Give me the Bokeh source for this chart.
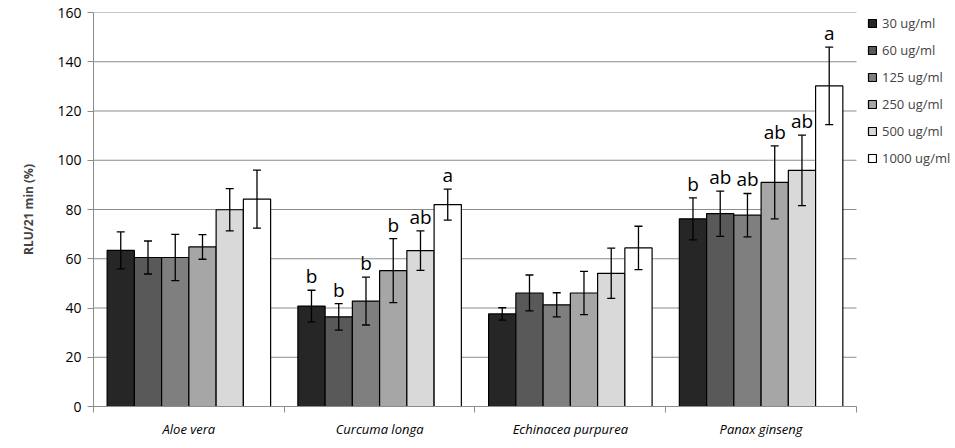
from bokeh.plotting import figure
from bokeh.models import (ColumnDataSource, FixedTicker, Whisker, TeeHead, Legend, LegendItem, Range1d)
from bokeh.core.properties import value
from bokeh.embed import file_html
from bokeh.resources import INLINE

categories = ["Aloe vera", "Curcuma longa", "Echinacea purpurea", "Panax ginseng"]
series = ["30 ug/ml", "60 ug/ml", "125 ug/ml", "250 ug/ml", "500 ug/ml", "1000 ug/ml"]
colors = ["#262626", "#595959", "#7f7f7f", "#a6a6a6", "#d9d9d9", "#ffffff"]

c30 = [63.4, 40.8, 37.6, 76.2]
c60 = [60.5, 36.4, 46.1, 78.3]
c125 = [60.5, 42.8, 41.3, 77.7]
c250 = [64.8, 55.2, 46.1, 91.0]
c500 = [79.9, 63.3, 54.1, 95.9]
c1000 = [84.2, 82.0, 64.4, 130.2]

e30 = [7.5, 6.4, 2.5, 8.5]
e60 = [6.7, 5.4, 7.3, 9.2]
e125 = [9.4, 9.7, 4.9, 8.8]
e250 = [5.0, 13.0, 8.8, 14.8]
e500 = [8.6, 8.0, 10.2, 14.3]
e1000 = [11.8, 6.3, 8.8, 15.7]

l30 = ["", "b", "", "b"]
l60 = ["", "b", "", "ab"]
l125 = ["", "b", "", "ab"]
l250 = ["", "b", "", "ab"]
l500 = ["", "ab", "", "ab"]
l1000 = ["", "a", "", "a"]

means = [c30, c60, c125, c250, c500, c1000]
errs = [e30, e60, e125, e250, e500, e1000]
letters = [l30, l60, l125, l250, l500, l1000]

y_ticks = [0, 20, 40, 60, 80, 100, 120, 140, 160]

FONT = "Open Sans"
GRID = "#8c8c8c"
NCAT = len(categories)

p = figure(width=950, height=440,
           output_backend="svg", toolbar_location=None,
           x_range=Range1d(0, 4.493), y_range=Range1d(0, 160),
           min_border_left=93, min_border_right=0, min_border_top=12, min_border_bottom=32)
p.outline_line_color = None
p.xgrid.grid_line_color = None
p.ygrid.grid_line_color = None

# horizontal gridlines limited to the category area
p.segment(x0=[0] * len(y_ticks), x1=[NCAT] * len(y_ticks), y0=y_ticks, y1=y_ticks,
          line_color=GRID, line_width=1)

n = len(series)
step = 1.0 / (n + 1)
legend_items = []
for j in range(n):
    xs = [i + (j + 1) * step for i in range(NCAT)]
    tops = means[j]
    upper = [m + e for m, e in zip(tops, errs[j])]
    lower = [m - e for m, e in zip(tops, errs[j])]
    src = ColumnDataSource(dict(x=xs, top=tops, upper=upper, lower=lower, lab=letters[j]))
    r = p.vbar(x="x", top="top", width=step, source=src, fill_color=colors[j],
               line_color="#000000", line_width=1.2)
    legend_items.append(LegendItem(label=series[j], renderers=[r]))
    w = Whisker(base="x", upper="upper", lower="lower", source=src, line_color="#000000",
                line_width=1.3, level="overlay",
                upper_head=TeeHead(size=8, line_color="#000000", line_width=1.3),
                lower_head=TeeHead(size=8, line_color="#000000", line_width=1.3))
    p.add_layout(w)
    p.text(x="x", y="upper", text="lab", source=src, text_align="center",
           text_baseline="bottom", y_offset=-1, text_font=value(FONT),
           text_font_size="19px", text_color="#000000")

# y axis
p.yaxis.ticker = FixedTicker(ticks=y_ticks)
p.yaxis.axis_line_color = GRID
p.yaxis.major_tick_line_color = GRID
p.yaxis.major_tick_out = 6
p.yaxis.major_tick_in = 0
p.yaxis.minor_tick_line_color = None
p.yaxis.major_label_text_font = FONT
p.yaxis.major_label_text_font_size = "14px"
p.yaxis.major_label_text_color = "#000000"
p.yaxis.major_label_standoff = 6
p.yaxis.axis_label = "RLU/21 min (%)"
p.yaxis.axis_label_text_font = FONT
p.yaxis.axis_label_text_font_style = "bold"
p.yaxis.axis_label_text_font_size = "12px"
p.yaxis.axis_label_standoff = 17

# x axis
centers = [i + 0.5 for i in range(NCAT)]
p.xaxis.bounds = (0, NCAT)
p.xaxis.ticker = FixedTicker(ticks=centers, minor_ticks=list(range(NCAT + 1)))
p.xaxis.major_label_overrides = {c: name for c, name in zip(centers, categories)}
p.xaxis.axis_line_color = GRID
p.xaxis.major_tick_line_color = None
p.xaxis.minor_tick_line_color = GRID
p.xaxis.minor_tick_out = 6
p.xaxis.minor_tick_in = 0
p.xaxis.major_label_text_font = FONT
p.xaxis.major_label_text_font_style = "italic"
p.xaxis.major_label_text_font_size = "13px"
p.xaxis.major_label_text_color = "#000000"
p.xaxis.major_label_standoff = 7

legend = Legend(items=legend_items, location=(774, 239), orientation="vertical",
                border_line_color=None, background_fill_alpha=0,
                glyph_width=10, glyph_height=10, label_height=18, spacing=9,
                label_text_font=FONT, label_text_font_size="13px",
                label_standoff=5, padding=0, margin=0)
p.add_layout(legend, "center")

open("out.html", "w").write(file_html(p, INLINE))
